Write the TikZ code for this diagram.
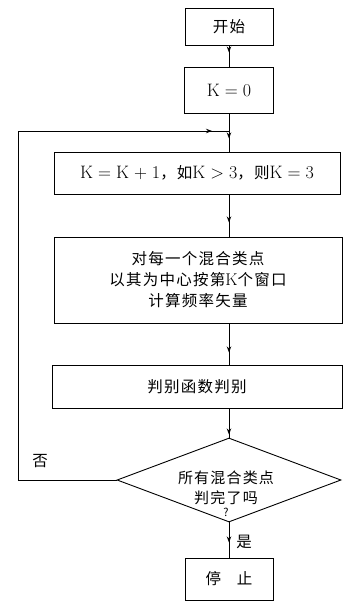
\documentclass[tikz,border=0pt]{standalone}
\usepackage{fontspec}
\newfontfamily\cjk[LetterSpace=8]{Noto Sans CJK SC}
\usetikzlibrary{shapes.geometric,arrows.meta,decorations.markings}
\begin{document}
\begin{tikzpicture}[x=1pt,y=-1pt,line width=0.9pt,
  box/.style={draw,rectangle,inner sep=0pt,align=center},
  lab/.style={font=\cjk\fontsize{15.5}{21}\selectfont},
  latin/.style={font=\fontsize{18}{20}\selectfont},
  midarrow/.style={postaction={decorate},decoration={markings,mark=at position #1 with {\arrow{Stealth[length=6pt,width=4.5pt]}}}}]
\useasboundingbox[fill=white] (0,0) rectangle (343,602);
% boxes
\node[box,lab,minimum width=88,minimum height=37] (start) at (229,26.5) {开始};
\node[box,latin,minimum width=89,minimum height=46] (k0) at (229,90) {K\;=\;0};
\node[box,latin,minimum width=286,minimum height=42] (b1) at (197,173)
  {K\;=\;K\;+\;1{\cjk\fontsize{15.5}{20}\selectfont ，如}K\;>\;3{\cjk\fontsize{15.5}{20}\selectfont ，则}K\;=\;3};
\node[box,lab,minimum width=288,minimum height=86] (b2) at (198,280)
  {对每一个混合类点\\以其为中心按第{\rmfamily\fontsize{17}{21}\selectfont K}个窗口\\计算频率矢量};
\node[box,lab,minimum width=290,minimum height=43] (b3) at (197,386.5) {判别函数判别};
\node[draw,diamond,inner sep=0pt,minimum width=224,minimum height=84] (dec) at (229,480) {};
\node[lab,align=center,font=\cjk\fontsize{15}{20}\selectfont] (dtext) at (226,494)
  {所有混合类点\\判完了吗\\[-7pt]{\fontsize{11}{11}\selectfont ?}};
\node[box,lab,minimum width=88,minimum height=42] (stop) at (229,579) {停\hspace{16pt}止};
% spine coordinates
\coordinate (j) at (229,131);
\coordinate (lt) at (18,131);
% connectors
\draw[midarrow=7pt] (start) -- (k0);
\draw[midarrow=25pt] (k0.south) -- (b1.north -| k0.south);
\draw[midarrow=28pt] (b1.south -| k0.south) -- (b2.north -| k0.south);
\draw[midarrow=29pt] (b2.south -| k0.south) -- (b3.north -| k0.south);
\draw[midarrow=26pt] (b3.south -| k0.south) -- (dec.north);
\draw[midarrow=20pt] (dec.south) -- (stop.north);
\draw[midarrow=-17pt] (dec.west) -- (dec.west -| lt) -- (lt) -- (j);
% labels
\node[lab] (no) at (40,461) {否};
\node[lab] (yes) at (244,542) {是};
\end{tikzpicture}
\end{document}
